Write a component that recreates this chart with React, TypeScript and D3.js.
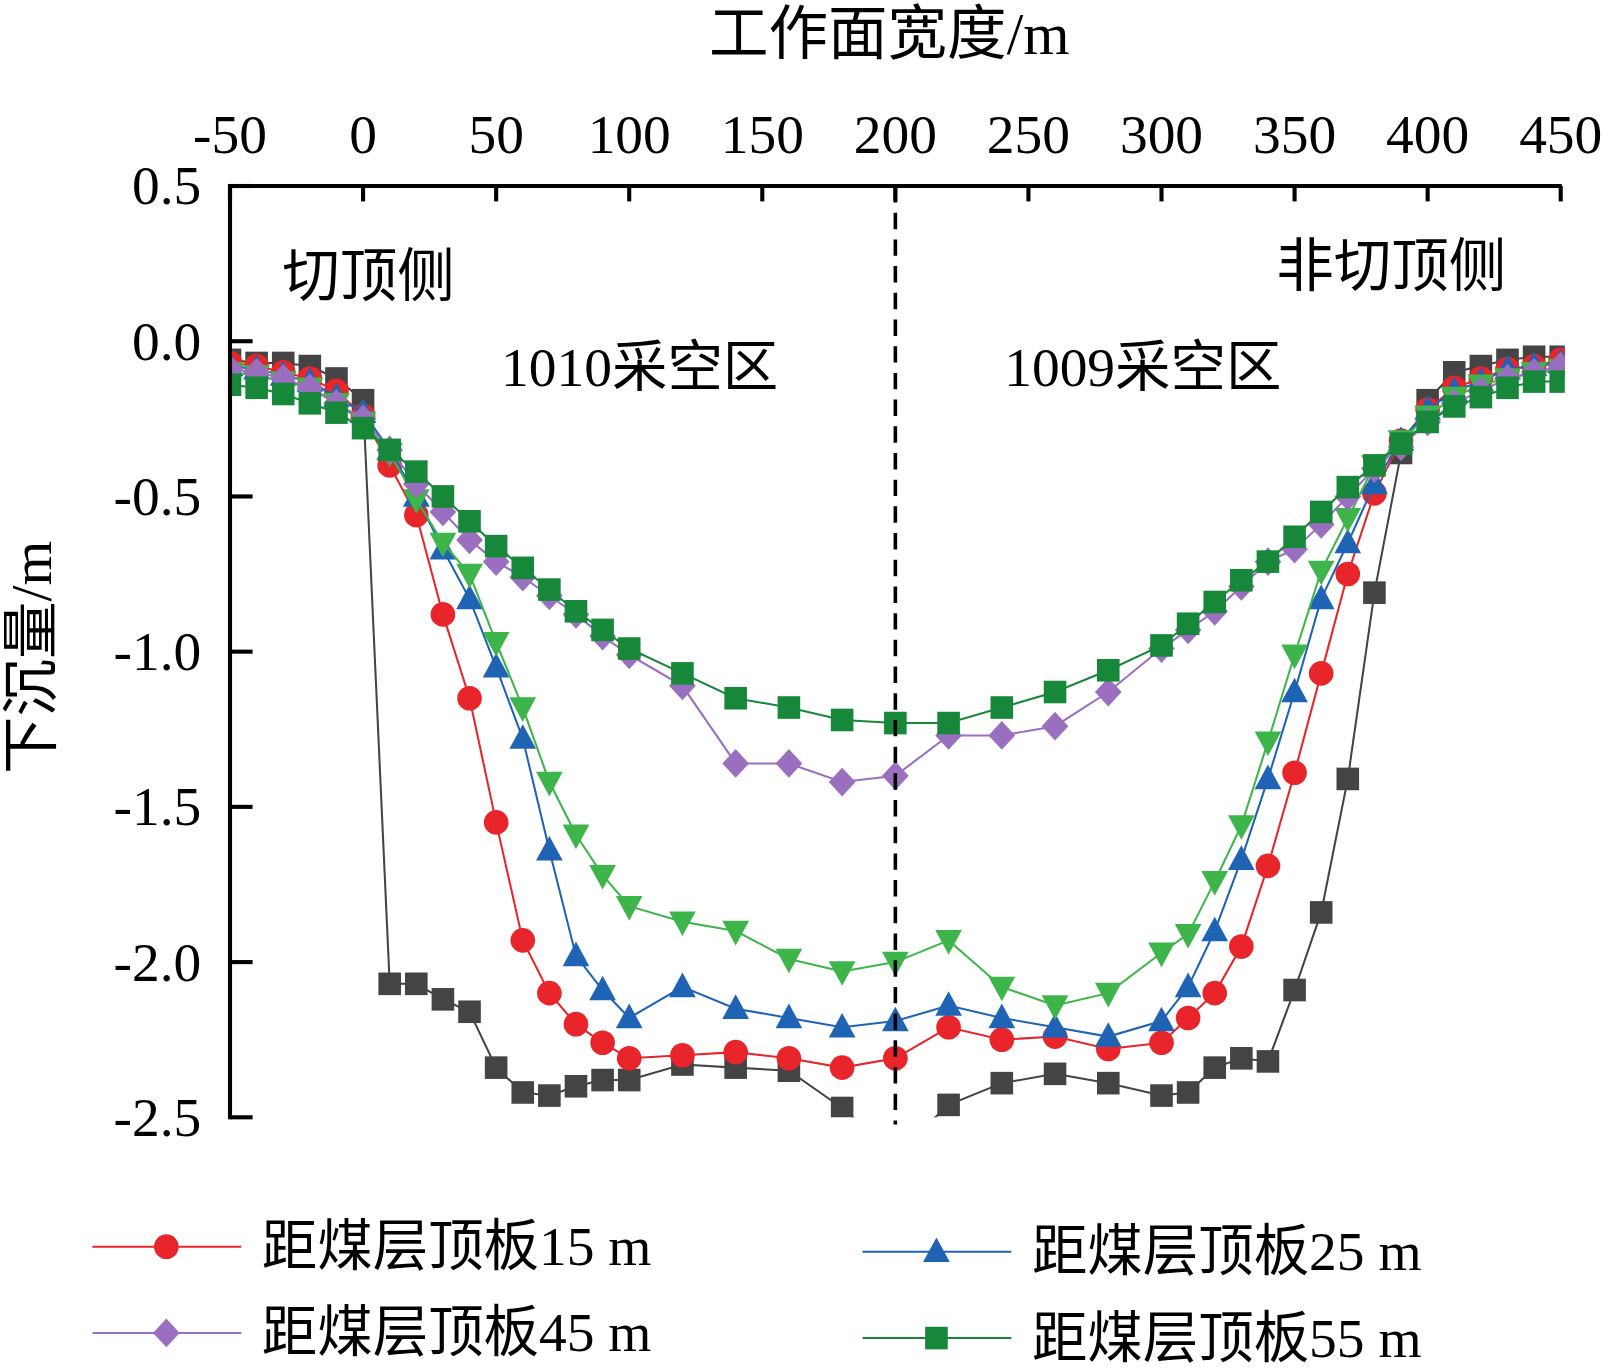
import React from 'react';
import * as d3 from 'd3';

const xs = [-50, -40, -30, -20, -10, 0, 10, 20, 30, 40, 50, 60, 70, 80, 90, 100, 120, 140, 160, 180, 200, 220, 240, 260, 280, 300, 310, 320, 330, 340, 350, 360, 370, 380, 390, 400, 410, 420, 430, 440, 450];

const gray = [-0.06, -0.07, -0.07, -0.08, -0.12, -0.19, -2.07, -2.07, -2.12, -2.16, -2.34, -2.42, -2.43, -2.4, -2.38, -2.38, -2.33, -2.34, -2.35, -2.47, -2.62, -2.46, -2.39, -2.36, -2.39, -2.43, -2.42, -2.34, -2.31, -2.32, -2.09, -1.84, -1.41, -0.81, -0.36, -0.19, -0.1, -0.08, -0.06, -0.05, -0.05];
const red = [-0.07, -0.08, -0.1, -0.12, -0.16, -0.24, -0.4, -0.56, -0.88, -1.15, -1.55, -1.93, -2.1, -2.2, -2.26, -2.31, -2.3, -2.29, -2.31, -2.34, -2.31, -2.21, -2.25, -2.24, -2.28, -2.26, -2.18, -2.1, -1.95, -1.69, -1.39, -1.07, -0.75, -0.49, -0.32, -0.22, -0.15, -0.12, -0.09, -0.08, -0.06];
const blue = [-0.08, -0.09, -0.11, -0.13, -0.18, -0.23, -0.35, -0.5, -0.67, -0.83, -1.05, -1.28, -1.64, -1.98, -2.09, -2.18, -2.08, -2.15, -2.18, -2.21, -2.19, -2.14, -2.18, -2.21, -2.24, -2.19, -2.08, -1.9, -1.67, -1.41, -1.13, -0.83, -0.65, -0.46, -0.32, -0.22, -0.16, -0.13, -0.09, -0.08, -0.07];
const lgreen = [-0.1, -0.11, -0.13, -0.15, -0.2, -0.26, -0.36, -0.51, -0.65, -0.75, -0.97, -1.18, -1.42, -1.59, -1.72, -1.82, -1.87, -1.9, -1.99, -2.03, -2.0, -1.93, -2.08, -2.14, -2.1, -1.97, -1.91, -1.74, -1.56, -1.29, -1.01, -0.74, -0.57, -0.4, -0.32, -0.24, -0.18, -0.14, -0.12, -0.1, -0.09];
const purple = [-0.09, -0.1, -0.12, -0.15, -0.2, -0.25, -0.35, -0.46, -0.55, -0.64, -0.71, -0.76, -0.82, -0.88, -0.95, -1.01, -1.11, -1.36, -1.36, -1.42, -1.4, -1.27, -1.27, -1.24, -1.13, -0.99, -0.93, -0.87, -0.79, -0.71, -0.67, -0.59, -0.5, -0.41, -0.34, -0.26, -0.2, -0.16, -0.12, -0.1, -0.08];
const dgreen = [-0.14, -0.15, -0.17, -0.2, -0.23, -0.28, -0.35, -0.42, -0.5, -0.58, -0.66, -0.73, -0.8, -0.87, -0.93, -0.99, -1.07, -1.15, -1.18, -1.22, -1.23, -1.23, -1.18, -1.13, -1.06, -0.98, -0.91, -0.84, -0.77, -0.71, -0.63, -0.55, -0.47, -0.4, -0.33, -0.26, -0.21, -0.18, -0.15, -0.13, -0.13];

const xTicks = [-50, 0, 50, 100, 150, 200, 250, 300, 350, 400, 450];
const yTicks = [0.5, 0, -0.5, -1, -1.5, -2, -2.5];

const series = [
  { name: '距煤层顶板15 m', vals: red, color: '#e8252a', shape: 'circle', legend: true },
  { name: '距煤层顶板25 m', vals: blue, color: '#1f63b5', shape: 'tri', legend: true },
  { name: '距煤层顶板35 m', vals: lgreen, color: '#3db54a', shape: 'tridown', legend: false },
  { name: '距煤层顶板45 m', vals: purple, color: '#9b6fc0', shape: 'diamond', legend: true },
  { name: '距煤层顶板55 m', vals: dgreen, color: '#17883a', shape: 'square', legend: true },
];

const serif = '"Liberation Serif", "Times New Roman", "Noto Sans CJK SC", serif';

function Marker({ shape, x, y, color }: { shape: string; x: number; y: number; color: string }) {
  if (shape === 'circle') return <circle cx={x} cy={y} r={12} fill={color} />;
  if (shape === 'square') return <rect x={x - 11} y={y - 11} width={22} height={22} fill={color} />;
  if (shape === 'tri') return <path d={`M${x},${y - 14}L${x + 13},${y + 10}L${x - 13},${y + 10}Z`} fill={color} />;
  if (shape === 'tridown') return <path d={`M${x},${y + 14}L${x + 13},${y - 10}L${x - 13},${y - 10}Z`} fill={color} />;
  return <path d={`M${x},${y - 14}L${x + 13},${y}L${x},${y + 14}L${x - 13},${y}Z`} fill={color} />;
}

export default function App() {
  const x = d3.scaleLinear().domain([-50, 450]).range([224, 1520]);
  const y = d3.scaleLinear().domain([0.5, -2.5]).range([181, 1088]);
  const line = d3.line<number>().x((_, i) => x(xs[i])).y((d) => y(d));
  const grayColor = '#444444';

  return (
    <svg width={1610} height={1368} viewBox="0 0 1568 1332" style={{ position: 'absolute', left: 0, top: 0, background: '#fff' }}>
      <defs>
        <clipPath id="plot">
          <rect x={224} y={181} width={1300} height={907} />
        </clipPath>
      </defs>
      <g clipPath="url(#plot)">
        <path d={line(gray) || ''} fill="none" stroke={grayColor} strokeWidth={2} />
        {gray.map((v, i) => (
          <Marker key={i} shape="square" x={x(xs[i])} y={y(v)} color={grayColor} />
        ))}
        {series.map((s) => (
          <g key={s.name}>
            <path d={line(s.vals) || ''} fill="none" stroke={s.color} strokeWidth={2} />
            {s.vals.map((v, i) => (
              <Marker key={i} shape={s.shape} x={x(xs[i])} y={y(v)} color={s.color} />
            ))}
          </g>
        ))}
      </g>
      <line x1={x(200)} x2={x(200)} y1={181} y2={1095} stroke="#000" strokeWidth={3.5} strokeDasharray="16 10" />
      <line x1={224} x2={1521} y1={181} y2={181} stroke="#000" strokeWidth={4} />
      <line x1={224} x2={224} y1={179} y2={1090} stroke="#000" strokeWidth={4} />
      {xTicks.map((t) => (
        <g key={t}>
          <line x1={x(t)} x2={x(t)} y1={181} y2={196} stroke="#000" strokeWidth={4} />
          <text x={x(t)} y={149} textAnchor="middle" fontFamily={serif} fontSize={54}>{t}</text>
        </g>
      ))}
      {yTicks.map((t) => (
        <g key={t}>
          <line x1={224} x2={246} y1={y(t)} y2={y(t)} stroke="#000" strokeWidth={4} />
          <text x={196} y={y(t) + 18} textAnchor="end" fontFamily={serif} fontSize={54}>{t.toFixed(1)}</text>
        </g>
      ))}
      <text x={866} y={52} textAnchor="middle" fontFamily={serif} fontSize={58}>工作面宽度/m</text>
      <text transform="translate(50,640) rotate(-90)" textAnchor="middle" fontFamily={serif} fontSize={56}>下沉量/m</text>
      <text x={275} y={288} fontFamily={serif} fontSize={56}>切顶侧</text>
      <text x={1243} y={278} fontFamily={serif} fontSize={56}>非切顶侧</text>
      <text x={488} y={376} fontFamily={serif} fontSize={54}>1010采空区</text>
      <text x={978} y={376} fontFamily={serif} fontSize={54}>1009采空区</text>
      {series.filter((s) => s.legend).map((s, i) => {
        const lx = i % 2 === 0 ? 90 : 840;
        const ly = i < 2 ? 1214 : 1298;
        const ty = i % 2 === 0 ? ly : ly + 5;
        return (
          <g key={s.name}>
            <line x1={lx} x2={lx + 145} y1={ty} y2={ty} stroke={s.color} strokeWidth={2} />
            <Marker shape={s.shape} x={lx + 72} y={ty} color={s.color} />
            <text x={lx + 165} y={ty + 18} fontFamily={serif} fontSize={54}>{s.name}</text>
          </g>
        );
      })}
    </svg>
  );
}
